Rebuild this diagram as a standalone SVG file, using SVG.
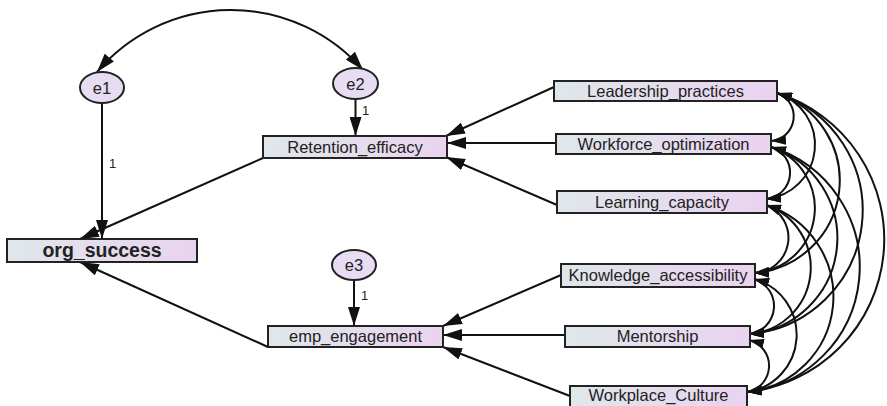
<svg xmlns="http://www.w3.org/2000/svg" width="887" height="406" viewBox="0 0 887 406">
<style>
.box{fill:url(#g);stroke:#222;stroke-width:2}
.lat{fill:#e7dcf1;stroke:#222;stroke-width:2}
.lbl{font-family:"Liberation Sans",Arial,sans-serif;font-size:16.5px;fill:#222;text-anchor:middle}
.big{font-size:19.5px;font-weight:bold}
.one{font-family:"Liberation Sans",Arial,sans-serif;font-size:13px;fill:#222}
.reg{stroke:#111;stroke-width:2;fill:none;marker-end:url(#ar)}
.cov{stroke:#111;stroke-width:2;fill:none;marker-start:url(#ac);marker-end:url(#ac)}
.cov2{stroke:#111;stroke-width:2;fill:none;marker-start:url(#ar);marker-end:url(#ar)}
</style>
<defs>
<linearGradient id="g" x1="0" y1="0" x2="1" y2="0">
<stop offset="0" stop-color="#dfe7ea"/>
<stop offset="1" stop-color="#ead3f0"/>
</linearGradient>
<marker id="ar" markerUnits="userSpaceOnUse" viewBox="0 0 19 12" markerWidth="19" markerHeight="12" refX="19" refY="6" orient="auto-start-reverse">
<path d="M0,0 L19,6 L0,12 z" fill="#111"/>
</marker>
<marker id="ac" markerUnits="userSpaceOnUse" viewBox="0 0 15 10" markerWidth="15" markerHeight="10" refX="15" refY="5" orient="auto-start-reverse">
<path d="M0,0 L15,5 L0,10 z" fill="#111"/>
</marker>
</defs>

<g id="connectors">
<path class="cov2" d="M97,72 A175.5,175.5 0 0 1 363,70"/>
<path class="reg" d="M102,103 L102,239"/>
<path class="reg" d="M355.5,99 L355.5,136"/>
<path class="reg" d="M354,280 L354,326"/>
<path class="reg" d="M263,158 L80,239"/>
<path class="reg" d="M268,347 L80,262"/>
<path class="reg" d="M554,87 L446,136"/>
<path class="reg" d="M556,143 L447,143"/>
<path class="reg" d="M557,205 L446,157"/>
<path class="reg" d="M561,275 L443,326"/>
<path class="reg" d="M565,335 L443,335"/>
<path class="reg" d="M570,396 L443,347"/>
<path class="cov" d="M777,93 A24.7,24.7 0 0 1 771,141"/>
<path class="cov" d="M777,93 A54.4,54.4 0 0 1 766,199"/>
<path class="cov" d="M777,93 A92.6,92.6 0 0 1 754,273"/>
<path class="cov" d="M777,93 A123.7,123.7 0 0 1 749,334"/>
<path class="cov" d="M777,93 A153.5,153.5 0 0 1 747,392"/>
<path class="cov" d="M771,147 A26.6,26.6 0 0 1 766,199"/>
<path class="cov" d="M771,147 A64.8,64.8 0 0 1 754,273"/>
<path class="cov" d="M771,147 A96,96 0 0 1 749,334"/>
<path class="cov" d="M771,147 A125.6,125.6 0 0 1 747,392"/>
<path class="cov" d="M766,205 A35.2,35.2 0 0 1 754,273"/>
<path class="cov" d="M766,205 A66.4,66.4 0 0 1 749,334"/>
<path class="cov" d="M766,205 A95.9,95.9 0 0 1 747,392"/>
<path class="cov" d="M754,279 A28.2,28.2 0 0 1 749,334"/>
<path class="cov" d="M754,279 A57.8,57.8 0 0 1 747,392"/>
<path class="cov" d="M749,340 A26.6,26.6 0 0 1 747,392"/>
</g>

<g id="e1"><ellipse class="lat" cx="102" cy="87.5" rx="22" ry="15.5"/><text class="lbl" x="102" y="93.5">e1</text></g>
<g id="e2"><ellipse class="lat" cx="355.5" cy="83.5" rx="22.5" ry="15.5"/><text class="lbl" x="355.5" y="89.5">e2</text></g>
<g id="e3"><ellipse class="lat" cx="354" cy="265" rx="22" ry="15"/><text class="lbl" x="354" y="271">e3</text></g>

<g id="w1"><text class="one" x="109" y="168">1</text></g>
<g id="w2"><text class="one" x="362" y="115">1</text></g>
<g id="w3"><text class="one" x="361" y="300">1</text></g>

<g id="Retention_efficacy"><rect class="box" x="263" y="136" width="184" height="22"/><text class="lbl" x="355" y="153">Retention_efficacy</text></g>
<g id="org_success"><rect class="box" x="7" y="239" width="190" height="23"/><text class="lbl big" x="102" y="257">org_success</text></g>
<g id="emp_engagement"><rect class="box" x="268" y="326" width="175" height="21"/><text class="lbl" x="355.5" y="342">emp_engagement</text></g>
<g id="Leadership_practices"><rect class="box" x="554" y="81" width="223" height="20"/><text class="lbl" x="665.5" y="97">Leadership_practices</text></g>
<g id="Workforce_optimization"><rect class="box" x="556" y="134" width="215" height="20"/><text class="lbl" x="663.5" y="150">Workforce_optimization</text></g>
<g id="Learning_capacity"><rect class="box" x="557" y="191" width="210" height="22"/><text class="lbl" x="662" y="208">Learning_capacity</text></g>
<g id="Knowledge_accessibility"><rect class="box" x="561" y="264" width="194" height="23"/><text class="lbl" x="658" y="281">Knowledge_accessibility</text></g>
<g id="Mentorship"><rect class="box" x="565" y="326" width="185" height="21"/><text class="lbl" x="657.5" y="342">Mentorship</text></g>
<g id="Workplace_Culture"><rect class="box" x="570" y="386" width="177" height="21"/><text class="lbl" x="658.5" y="401">Workplace_Culture</text></g>
</svg>
